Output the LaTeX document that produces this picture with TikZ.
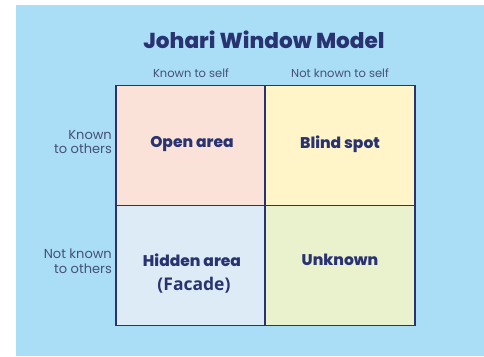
\documentclass[tikz,border=0pt]{standalone}
\usepackage{fontspec}
\setmainfont{Poppins}
\IfFontExistsTF{Poppins ExtraBold}{\newfontfamily\heavyfont{Poppins ExtraBold}}{\newfontfamily\heavyfont{Poppins}[UprightFont=*-Bold]}
\newfontfamily\parenfont{Open Sans}
\definecolor{bgblue}{HTML}{A9DEF6}
\definecolor{navy}{HTML}{2A3372}
\definecolor{greytext}{HTML}{465075}
\definecolor{openc}{HTML}{FAE2D8}
\definecolor{blindc}{HTML}{FFF5C9}
\definecolor{hiddenc}{HTML}{DDEBF6}
\definecolor{unknownc}{HTML}{E9F1CD}
\begin{document}
\begin{tikzpicture}[x=1pt,y=-1pt,
  cell/.style={draw=navy,line width=1.6pt,minimum width=150pt,minimum height=120pt,inner sep=0pt},
  area/.style={text=navy,font=\heavyfont\fontsize{15.5}{18}\selectfont,align=center},
  axis/.style={text=greytext,font=\fontsize{11.5}{12}\selectfont},
  side/.style={axis,font=\fontsize{13}{14.5}\selectfont,anchor=east,align=right,inner sep=1pt}]
\useasboundingbox (0,0) rectangle (484,356);
\fill[bgblue] (16,5) rectangle (484,356);

\node[text=navy,font=\heavyfont\fontsize{21.6}{24}\selectfont] (title) at (264,40) {Johari Window Model};

% the four panes
\node[cell,fill=openc] (open) at (191,145.5) {};
\node[cell,fill=blindc] (blind) at (340,145.5) {};
\node[cell,fill=hiddenc] (hidden) at (191,265.5) {};
\node[cell,fill=unknownc] (unknown) at (340,265.5) {};

\node[area] (opent) at (192,144) {Open area};
\node[area] (blindt) at (340,144) {Blind spot};
\node[area] (hiddent) at (192,260) {Hidden area};
\node[area,font=\parenfont\bfseries\fontsize{17.5}{20}\selectfont] (facade) at (194,285) {(Facade)};
\node[area] (unknownt) at (340,260) {Unknown};

% axis labels
\node[axis] (self) at (open.north|-0,73) {Known to self};
\node[axis] (notself) at (blind.north|-0,73) {Not known to self};
\node[side] (others) at (113,142) {Known\\to others};
\node[side] (notothers) at (113,261) {Not known\\to others};
\end{tikzpicture}
\end{document}
